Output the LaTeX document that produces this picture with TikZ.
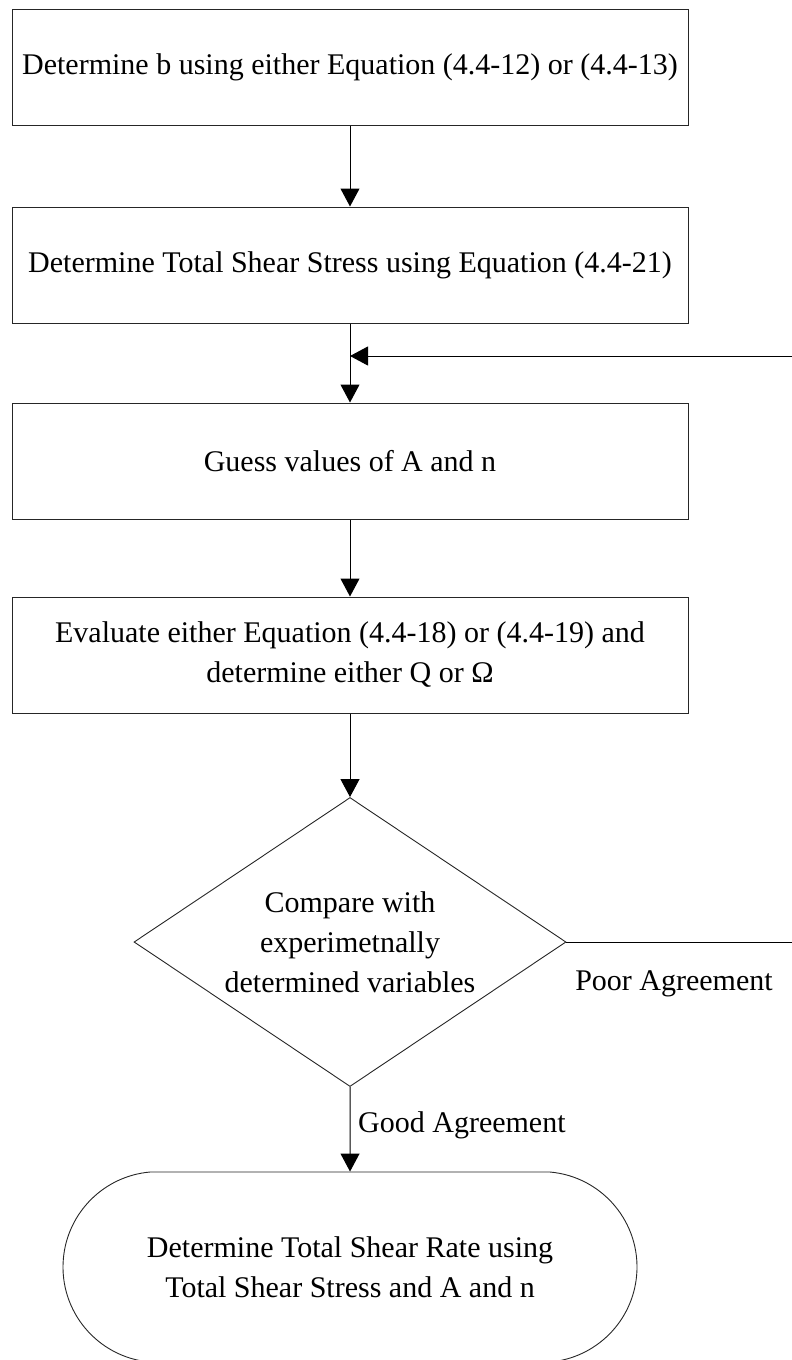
\documentclass[tikz,border=0pt]{standalone}
\usepackage{fontspec}
\setmainfont{Liberation Serif}
\usetikzlibrary{arrows.meta,shapes.geometric,shapes.misc}
\begin{document}
\begin{tikzpicture}[x=1pt,y=-1pt,
  txt/.style={font=\fontsize{30}{40}\selectfont,align=center},
  box/.style={txt,draw=black!85,line width=1pt,rectangle,minimum width=676pt,minimum height=116pt,inner sep=0pt},
  dec/.style={txt,draw=black!85,line width=0.9pt,diamond,aspect=1.5,minimum width=432pt,minimum height=289pt,inner sep=0pt},
  term/.style={txt,draw=black!85,line width=0.9pt,rounded rectangle,rounded rectangle arc length=170,minimum width=574pt,minimum height=190pt,inner sep=0pt},
  conn/.style={draw=black,line width=1pt},
  arr/.style={conn,-{Triangle[length=18pt,width=19pt]}},
  lbl/.style={font=\fontsize{30}{36}\selectfont,inner sep=0pt}]
\useasboundingbox (0,0) rectangle (792,1360);
\node[box] (b1) at (350,67) {Determine b using either Equation (4.4-12) or (4.4-13)};
\node[box] (b2) at (350,265) {Determine Total Shear Stress using Equation (4.4-21)};
\node[box] (b3) at (350,461) {Guess values of A and n};
\node[box] (b4) at (350,655) {Evaluate either Equation (4.4-18) or (4.4-19) and\\determine either Q or Ω};
\node[dec] (dia) at (350,942) {Compare with\\experimetnally\\determined variables};
\node[term] (fin) at (350,1267) {Determine Total Shear Rate using\\Total Shear Stress and A and n};
\coordinate (exitR) at (792,942);
\coordinate (entryR) at (792,356);
\coordinate (join) at (350,356);
\draw[arr] (b1) -- (b2);
\draw[arr] (b2) -- (b3);
\draw[arr] (b3) -- (b4);
\draw[arr] (b4) -- (dia);
\draw[arr] (dia) -- (fin);
\draw[conn] (dia.east) -- (exitR);
\draw[arr] (entryR) -- (join);
\node[lbl,anchor=west] (good) at (358,1125) {Good Agreement};
\node[lbl] (poor) at (674,984) {Poor Agreement};
\end{tikzpicture}
\end{document}
